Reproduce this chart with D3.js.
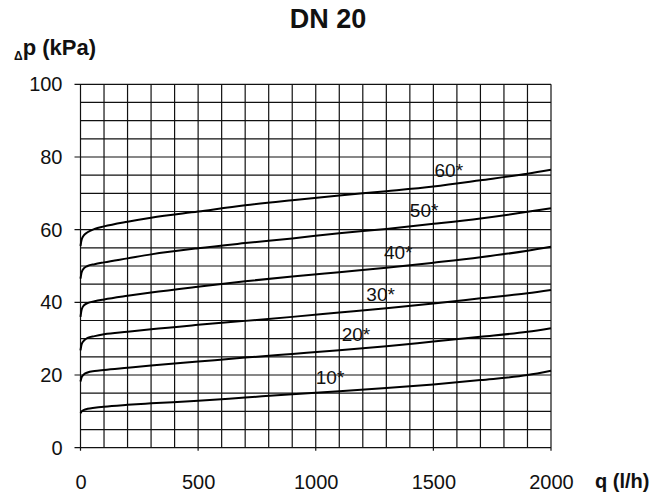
<!DOCTYPE html>
<html>
<head>
<meta charset="utf-8">
<script src="https://cdn.jsdelivr.net/npm/d3@7"></script>
<style>
  body { margin: 0; background: white; }
  svg text { font-family: "Liberation Sans", Arial, sans-serif; fill: #111; }
</style>
</head>
<body>
<svg id="chart"></svg>
<script>
// flow values (l/h) where the curves were read
let flows = [0, 5, 15, 30, 60, 100, 200, 300, 500, 700, 900, 1100, 1300, 1500, 1700, 1900, 2000]

// pressure drop (kPa) per valve setting
let dp60 = [55.5, 57.3, 58.5, 59.3, 60.2, 60.9, 62.2, 63.3, 65.0, 66.7, 68.1, 69.4, 70.6, 71.9, 73.6, 75.4, 76.5]
let dp50 = [46.5, 48.3, 49.4, 50.0, 50.5, 51.0, 52.1, 53.2, 54.9, 56.3, 57.6, 59.0, 60.2, 61.6, 63.1, 64.9, 65.9]
let dp40 = [36.0, 38.0, 39.2, 39.8, 40.3, 40.8, 41.8, 42.7, 44.3, 45.8, 47.1, 48.3, 49.5, 50.9, 52.4, 54.2, 55.3]
let dp30 = [26.8, 28.5, 29.5, 30.2, 30.7, 31.2, 31.9, 32.6, 33.8, 34.9, 36.0, 37.2, 38.4, 39.7, 41.1, 42.5, 43.4]
let dp20 = [18.2, 19.4, 20.2, 20.7, 21.1, 21.4, 22.0, 22.6, 23.7, 24.8, 25.8, 26.8, 27.9, 29.2, 30.5, 31.9, 32.9]
let dp10 = [9.5, 10.0, 10.4, 10.7, 11.0, 11.3, 11.8, 12.2, 12.9, 13.8, 14.7, 15.5, 16.4, 17.4, 18.6, 20.0, 21.2]

let seriesNames = ["60*", "50*", "40*", "30*", "20*", "10*"]
let seriesValues = [dp60, dp50, dp40, dp30, dp20, dp10]
// flow where each curve label sits
let labelFlows = [1505, 1400, 1290, 1215, 1110, 1000]

let xTicks = [0, 500, 1000, 1500, 2000]
let yTicks = [0, 20, 40, 60, 80, 100]

let w = 666
let h = 498
let plotLeft = 80.5
let plotRight = 551
let plotTop = 84.3
let plotBottom = 447.7

let svg = d3.select("#chart")
            .attr("width", w)
            .attr("height", h)

let xScale = d3.scaleLinear()
               .domain([0, 2000])
               .range([plotLeft, plotRight])

let yScale = d3.scaleLinear()
               .domain([0, 100])
               .range([plotBottom, plotTop])

// grid: every 100 l/h and every 5 kPa
let grid = svg.append("g")
              .attr("stroke", "#111")
              .attr("stroke-width", 1.2)

grid.selectAll(".vline")
    .data(d3.range(0, 2001, 100))
    .enter()
    .append("line")
    .attr("x1", (d) => xScale(d))
    .attr("x2", (d) => xScale(d))
    .attr("y1", plotTop)
    .attr("y2", (d) => d % 500 === 0 ? plotBottom + 3 : plotBottom)

grid.selectAll(".hline")
    .data(d3.range(0, 101, 5))
    .enter()
    .append("line")
    .attr("y1", (d) => yScale(d))
    .attr("y2", (d) => yScale(d))
    .attr("x1", (d) => d % 20 === 0 ? plotLeft - 6 : plotLeft)
    .attr("x2", plotRight)

// axis labels
let xAxis = d3.axisBottom(xScale)
              .tickValues(xTicks)
              .tickFormat(d3.format("d"))
              .tickSize(0)
              .tickPadding(27)

let yAxis = d3.axisLeft(yScale)
              .tickValues(yTicks)
              .tickSize(0)
              .tickPadding(18)

svg.append("g")
   .attr("transform", "translate(0," + plotBottom + ")")
   .call(xAxis)
   .call((g) => g.select(".domain").remove())
   .selectAll("text")
   .attr("font-size", 20)
   .attr("fill", "#111")

svg.append("g")
   .attr("transform", "translate(" + plotLeft + ",0)")
   .call(yAxis)
   .call((g) => g.select(".domain").remove())
   .selectAll("text")
   .attr("font-size", 20)
   .attr("fill", "#111")

// curves
let line = d3.line()
             .x((d, i) => xScale(flows[i]))
             .y((d) => yScale(d))
             .curve(d3.curveMonotoneX)

svg.append("g")
   .selectAll("path")
   .data(seriesValues)
   .enter()
   .append("path")
   .attr("d", (d) => line(d))
   .attr("fill", "none")
   .attr("stroke", "#000")
   .attr("stroke-width", 2)

let valueAt = (vals, q) => {
  let i = d3.bisectRight(flows, q) - 1
  let t = (q - flows[i]) / (flows[i + 1] - flows[i])
  return vals[i] + t * (vals[i + 1] - vals[i])
}

svg.append("g")
   .selectAll("text")
   .data(seriesNames)
   .enter()
   .append("text")
   .attr("x", (d, i) => xScale(labelFlows[i]))
   .attr("y", (d, i) => yScale(valueAt(seriesValues[i], labelFlows[i])) - 9)
   .attr("font-size", 19)
   .text((d) => d)

// titles
svg.append("text")
   .attr("x", 328)
   .attr("y", 28)
   .attr("text-anchor", "middle")
   .attr("font-size", 27)
   .attr("font-weight", "bold")
   .text("DN 20")

let yTitle = svg.append("text")
                .attr("x", 14)
                .attr("y", 55)
                .attr("font-weight", "bold")
yTitle.append("tspan")
      .attr("font-size", 12)
      .attr("dy", 5)
      .text("Δ")
yTitle.append("tspan")
      .attr("font-size", 22)
      .attr("dy", -5)
      .text("p (kPa)")

svg.append("text")
   .attr("x", 595)
   .attr("y", 488)
   .attr("font-size", 20)
   .attr("font-weight", "bold")
   .text("q (l/h)")
</script>
</body>
</html>
